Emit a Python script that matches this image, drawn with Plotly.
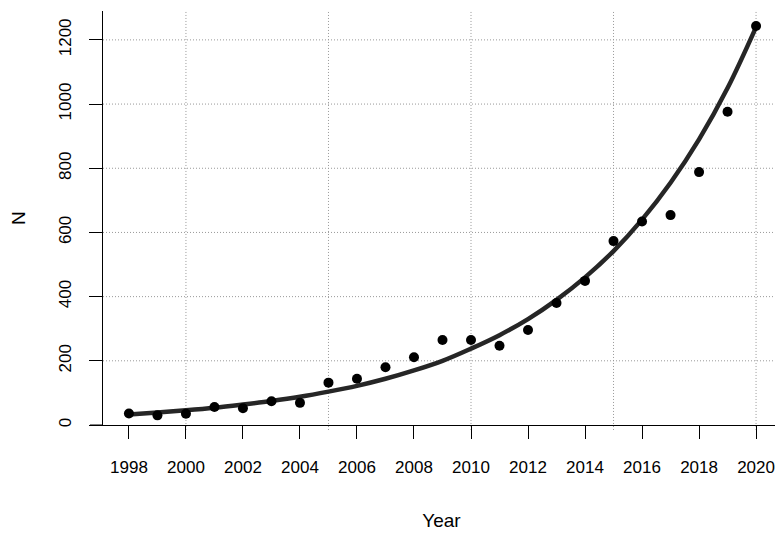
import plotly.graph_objects as go

# observed counts per year
years = list(range(1998, 2021))
counts = [36, 30, 35, 56, 52, 74, 69, 132, 144, 180, 211, 265, 265,
          247, 296, 380, 449, 573, 634, 654, 788, 976, 1243]

# fitted curve at each year
fit = [33, 39, 46, 54, 64, 75, 88, 104, 122, 144, 170, 200, 238,
       280, 330, 390, 460, 542, 640, 755, 890, 1050, 1240]

x_ticks = list(range(1998, 2021, 2))
y_ticks = [0, 200, 400, 600, 800, 1000, 1200]
x_grid = [2000, 2005, 2010, 2015, 2020]
y_grid = [200, 400, 600, 800, 1000, 1200]

fig = go.Figure()

fig.add_trace(go.Scatter(
    x=years, y=fit, mode="lines",
    line=dict(color="#262626", width=4.5, shape="spline"),
    hoverinfo="skip"
))
fig.add_trace(go.Scatter(
    x=years, y=counts, mode="markers",
    marker=dict(color="black", size=10)
))

# R style dotted grid
for gx in x_grid:
    fig.add_shape(type="line", xref="x", yref="paper", x0=gx, x1=gx,
                  y0=-0.012, y1=1, layer="below",
                  line=dict(color="#999999", width=1, dash="1px,2px"))
for gy in y_grid:
    fig.add_shape(type="line", xref="paper", yref="y", x0=0, x1=1,
                  y0=gy, y1=gy, layer="below",
                  line=dict(color="#999999", width=1, dash="1px,2px"))

# x axis line continues a bit left of the y axis
fig.add_shape(type="line", xref="paper", yref="y", x0=-13 / 677, x1=0,
              y0=0, y1=0, line=dict(color="black", width=1))

font = dict(family="Liberation Sans, Arial, sans-serif", color="black")

fig.update_xaxes(
    range=[1997.09, 2020.84],
    tickvals=x_ticks,
    ticks="outside", ticklen=13, tickcolor="black", tickwidth=1,
    showline=True, linecolor="black", linewidth=1,
    showgrid=False, zeroline=False,
    tickfont=dict(size=17, **font),
    ticklabelstandoff=14,
    title=dict(text="Year", font=dict(size=19, **font), standoff=37)
)
fig.update_yaxes(
    range=[0, 1290],
    tickvals=y_ticks,
    tickangle=-90,
    ticks="outside", ticklen=13, tickcolor="black", tickwidth=1,
    showline=True, linecolor="black", linewidth=1,
    showgrid=False, zeroline=False,
    tickfont=dict(size=17, **font),
    ticklabelstandoff=11,
    title=dict(text="N", font=dict(size=19, **font), standoff=28)
)

fig.update_layout(
    width=783, height=535,
    margin=dict(l=95, r=11, t=3, b=118),
    plot_bgcolor="white", paper_bgcolor="white",
    showlegend=False
)

fig.write_html("out.html")
